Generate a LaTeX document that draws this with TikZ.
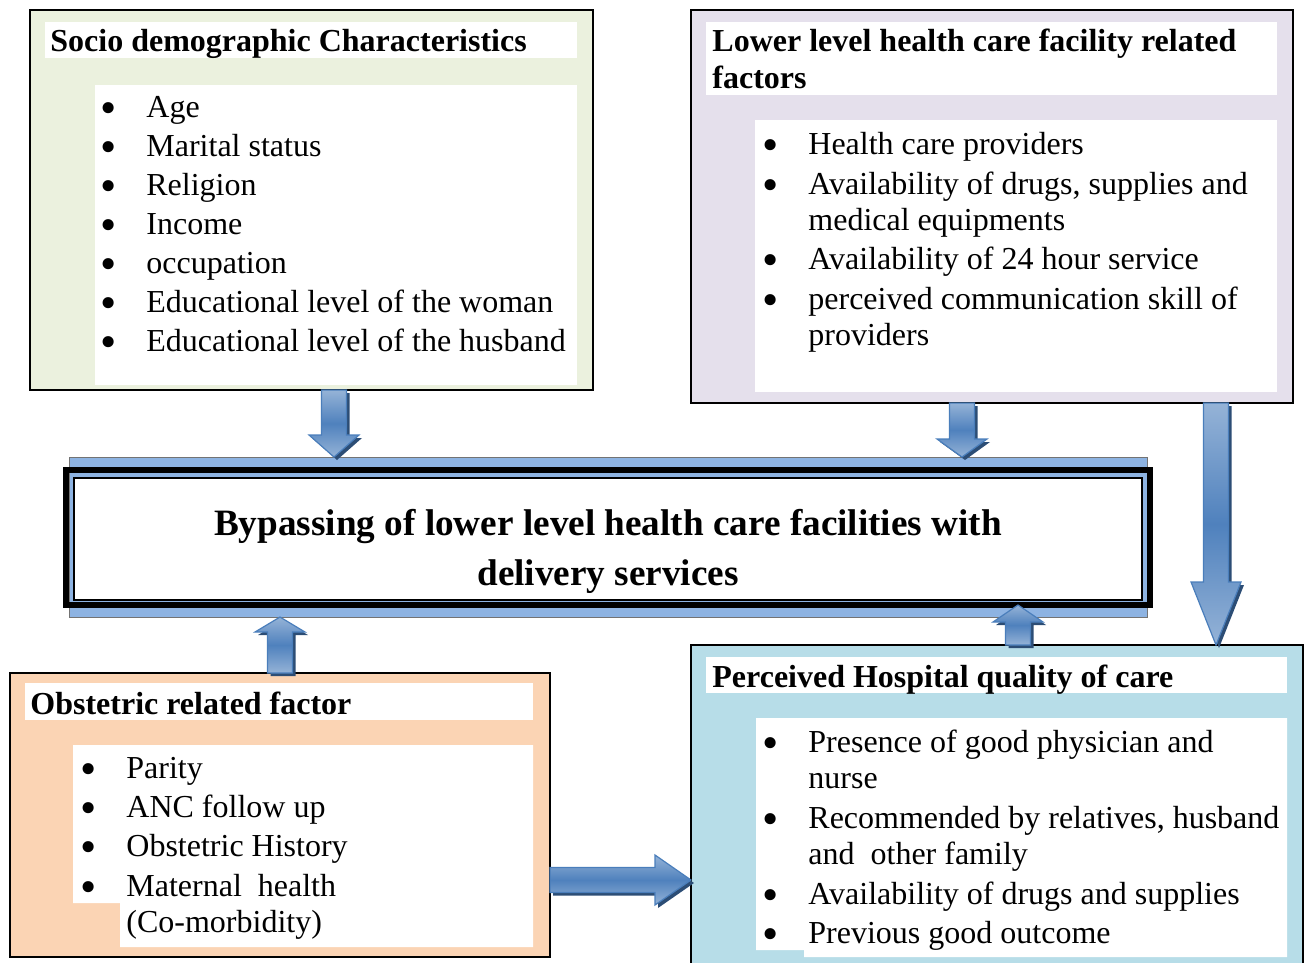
\documentclass[tikz,border=0pt]{standalone}
\usepackage{fontspec}
\setmainfont{Liberation Serif}
\usetikzlibrary{calc}

\definecolor{sociogreen}{HTML}{EBF1DE}
\definecolor{lowerlilac}{HTML}{E5E0EC}
\definecolor{obstpeach}{HTML}{FBD4B4}
\definecolor{hospblue}{HTML}{B7DDE8}
\definecolor{bandblue}{HTML}{8DB3E2}
\definecolor{arrowlight}{HTML}{95B3D7}
\definecolor{arrowmid}{HTML}{4F81BD}
\definecolor{arrowline}{HTML}{4A7EBB}
\definecolor{arrowshade}{HTML}{2C4D75}

% bullet and hanging indent for the factor lists
\newcommand\itm{\makebox[23pt][l]{\smash{\raisebox{-0.2em}{\scalebox{1.45}{\textbullet}}}}}
\newcommand\ind{\hspace*{23pt}}

% outline of a block arrow from #1 to #2, head base at (ah)
\newcommand\arrowpath[2]{($(#1)!6.25pt!90:(#2)$) -- ($(ah)!6.25pt!90:(#2)$)
  -- ($(ah)!12.5pt!90:(#2)$) -- (#2) -- ($(ah)!12.5pt!-90:(#2)$)
  -- ($(ah)!6.25pt!-90:(#2)$) -- ($(#1)!6.25pt!-90:(#2)$) -- cycle}
% [head length]{from}{to}
\newcommand\blockarrow[3][10pt]{%
  \coordinate (ah) at ($(#3)!#1!(#2)$);
  \fill[arrowshade, transform canvas={shift={(1.5pt,-1.5pt)}}] \arrowpath{#2}{#3};
  \shadedraw[arrowbody] \arrowpath{#2}{#3};
}

\begin{document}
\begin{tikzpicture}[x=0.5pt,y=-0.5pt]
\tikzset{factorbox/.style = {draw, line width=1pt, inner sep=0pt, outer sep=0pt}}
% lists are placed by the baseline of their last line
\tikzset{boxtitle/.style = {anchor=base west, inner sep=0pt, align=left,
  font=\fontsize{16}{18.5}\selectfont\bfseries}}
\tikzset{boxlist/.style = {anchor=base west, inner sep=0pt, align=left,
  font=\fontsize{16}{18}\selectfont}}
\tikzset{arrowbody/.style = {top color=arrowlight, bottom color=arrowlight,
  middle color=arrowmid, draw=arrowline, line width=0.6pt}}
\useasboundingbox (0,0) rectangle (1306,963);

% the four groups of factors
\node[factorbox, fill=sociogreen, minimum width=281.5pt, minimum height=190pt] (socio) at (311.5,200) {};
\node[factorbox, fill=lowerlilac, minimum width=301pt, minimum height=196.5pt] (lower) at (992,206.5) {};
\node[factorbox, fill=obstpeach, minimum width=270pt, minimum height=142pt] (obst) at (280,815) {};
\node[factorbox, fill=hospblue, minimum width=306pt, minimum height=165pt] (hosp) at (997,810) {};

\fill[white] (45,22) rectangle (577,58);
\fill[white] (95,85) rectangle (577,385);
\fill[white] (706,22) rectangle (1277,95);
\fill[white] (755,120) rectangle (1277,392);
\fill[white] (25,683) rectangle (533,720);
\fill[white] (73,745) -- (533,745) -- (533,947) -- (120,947) -- (120,903) -- (73,903) -- cycle;
\fill[white] (706,657) rectangle (1287,693);
\fill[white] (756,718) -- (1287,718) -- (1287,957) -- (804,957) -- (804,950) -- (756,950) -- cycle;

\node[boxtitle] (soctitle) at (50,52) {Socio demographic Characteristics};
\node[boxlist] (soclist) at (100,351) {%
  \itm Age\\[1.5pt]
  \itm Marital status\\[1.5pt]
  \itm Religion\\[1.5pt]
  \itm Income\\[1.5pt]
  \itm occupation\\[1.5pt]
  \itm Educational level of the woman\\[1.5pt]
  \itm Educational level of the husband};

\node[boxtitle] (lowtitle) at (712,89) {Lower level health care facility related\\factors};
\node[boxlist] (lowlist) at (762,345) {%
  \itm Health care providers\\[1.75pt]
  \itm Availability of drugs, supplies and\\
  \ind medical equipments\\[1.75pt]
  \itm Availability of 24 hour service\\[1.75pt]
  \itm perceived communication skill of\\
  \ind providers};

\node[boxtitle] (obsttitle) at (30,714) {Obstetric related factor};
\node[boxlist] (obstlist) at (80,932) {%
  \itm Parity\\[1.5pt]
  \itm ANC follow up\\[1.5pt]
  \itm Obstetric History\\[1.75pt]
  \itm Maternal\ \ health\\
  \ind (Co-morbidity)};

\node[boxtitle] (hosptitle) at (712,687) {Perceived Hospital quality of care};
\node[boxlist] (hosplist) at (762,943) {%
  \itm Presence of good physician and\\
  \ind nurse\\[2pt]
  \itm Recommended by relatives, husband\\
  \ind and\ \ other family\\[2pt]
  \itm Availability of drugs and supplies\\[1.5pt]
  \itm Previous good outcome};

% central outcome
\node[draw=black!55, line width=0.5pt, fill=bandblue, inner sep=0pt, outer sep=0pt,
  minimum width=539pt, minimum height=80pt] (band) at (608,537) {};
\draw[line width=3pt] (66,470) rectangle (1150,604.5);
\node[draw, line width=1pt, fill=white, inner sep=0pt, outer sep=0pt,
  minimum width=534pt, minimum height=61pt] (bypass) at (608,539) {};
\node[align=center, font=\fontsize{18.6}{25}\selectfont\bfseries] (bypasstext) at (608,551)
  {Bypassing of lower level health care facilities with\\delivery services};

% block arrows
\coordinate (a1) at ([xshift=11.25pt]socio.south);
\coordinate (a2) at ([xshift=-15pt]lower.south);
\coordinate (a3) at ([xshift=112pt]lower.south);
\coordinate (a4) at (obst.north);
\coordinate (a5) at ([xshift=10.5pt]hosp.north);
\coordinate (a6) at ([yshift=-32.5pt]obst.east);
\blockarrow[11pt]{a1}{a1 |- band.north}
\blockarrow[9pt]{a2}{a2 |- band.north}
\blockarrow[31.5pt]{a3}{a3 |- hosp.north}
\blockarrow[7.5pt]{a4}{a4 |- band.south}
\blockarrow[8.5pt]{a5}{[yshift=6pt]a5 |- band.south}
\blockarrow[18pt]{a6}{a6 -| hosp.west}
\end{tikzpicture}
\end{document}
